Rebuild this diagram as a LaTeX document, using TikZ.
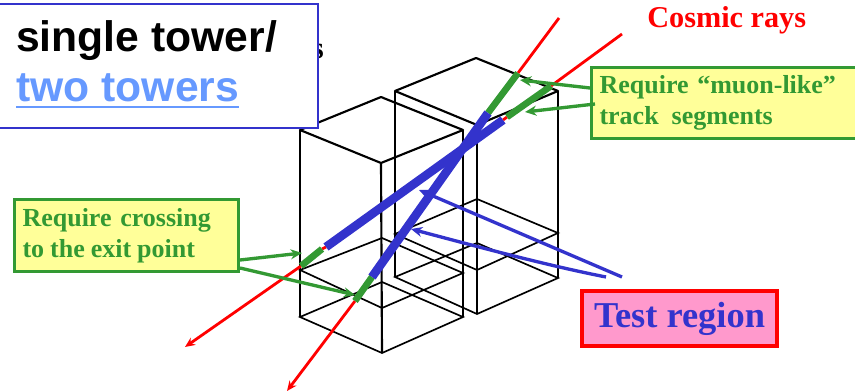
\documentclass[tikz,border=0pt]{standalone}
\usepackage{fontspec}
\setmainfont{Liberation Serif}
\newfontfamily\headfont{Liberation Sans}
\usetikzlibrary{arrows.meta}
\definecolor{gr}{HTML}{339933}
\definecolor{bl}{HTML}{3333CC}
\definecolor{lb}{HTML}{6699FF}
\definecolor{yel}{HTML}{FFFF99}
\definecolor{pk}{HTML}{FF99CC}
\tikzset{
  edge/.style={draw=black,line width=1.6pt,line join=round},
  thin edge/.style={draw=black,line width=1.25pt},
  ray/.style={draw=red,line width=2.1pt},
  rayend/.style={ray,-{Stealth[length=7.5pt,width=6.5pt]}},
  greenseg/.style={draw=gr,line width=5pt},
  blueseg/.style={draw=bl,line width=6.5pt},
  greenarrow/.style={draw=gr,line width=2.5pt,-{Stealth[length=8.5pt,width=7.5pt]}},
  bluearrow/.style={draw=bl,line width=2.5pt,-{Stealth[length=8.5pt,width=7.5pt]}},
  notebox/.style={draw=gr,fill=yel,line width=2.3pt,text=gr,align=left,inner xsep=0pt,inner ysep=0pt,
    font=\fontsize{19.5}{23.3}\selectfont\bfseries},
}
\begin{document}
\begin{tikzpicture}[x=0.75pt,y=-0.75pt]
\useasboundingbox (0,0) rectangle (855,391);
\clip (0,0) rectangle (855,391);
% rear tower
\coordinate (rtl) at (395,91); \coordinate (rtb) at (476,58); \coordinate (rtr) at (558,91); \coordinate (rtf) at (477,125);
\coordinate (rml) at (395,234); \coordinate (rmb) at (477,199); \coordinate (rmr) at (558,233); \coordinate (rmf) at (477,270);
\coordinate (rbl) at (395,277); \coordinate (rbb) at (477,243); \coordinate (rbr) at (558,278); \coordinate (rbf) at (477,314);
\draw[edge] (rtl) -- (rtb) -- (rtr) -- (rtf) -- cycle;
\draw[thin edge] (rtl) -- (rbl);
\draw[edge] (rtf) -- (rbf);
\draw[thin edge] (rtr) -- (rbr);
\draw[thin edge] (rml) -- (rmb) -- (rmr) -- (rmf) -- cycle;
\draw[thin edge] (rbl) -- (rbb) -- (rbr) -- (rbf) -- cycle;
% front tower
\coordinate (ftl) at (300,130); \coordinate (ftb) at (381,97); \coordinate (ftr) at (463,130); \coordinate (ftf) at (381,163);
\coordinate (fml) at (300,270); \coordinate (fmb) at (382,238); \coordinate (fmr) at (463,273); \coordinate (fmf) at (382,308);
\coordinate (fbl) at (300,317); \coordinate (fbb) at (382,282); \coordinate (fbr) at (463,317); \coordinate (fbf) at (382,353);
\draw[edge] (ftl) -- (ftb) -- (ftr) -- (ftf) -- cycle;
\draw[thin edge] (ftl) -- (fbl);
\draw[edge] (ftf) -- (fbf);
\draw[thin edge] (ftr) -- (fbr);
\draw[thin edge] (fml) -- (fmb) -- (fmr) -- (fmf) -- cycle;
\draw[thin edge] (fbl) -- (fbb) -- (fbr) -- (fbf) -- cycle;
% ray A
\coordinate (a0) at (559,18); \coordinate (a1) at (518,73); \coordinate (a2) at (488,113);
\coordinate (a3) at (372,277); \coordinate (a4) at (355,301); \coordinate (a5) at (287,391);
\draw[ray] (a0) -- (a1);
\draw[rayend] (a4) -- (a5);
\draw[greenseg] (a1) -- (a2);
\draw[greenseg] (a3) -- (a4);
\draw[blueseg] (a2) -- (a3);
% ray B
\coordinate (b0) at (622,34); \coordinate (b1) at (551,86); \coordinate (b2) at (507,117);
\coordinate (b3) at (503,120); \coordinate (b4) at (326,247); \coordinate (b5) at (322,249);
\coordinate (b6) at (301,266); \coordinate (b7) at (185,347);
\draw[ray] (b0) -- (b1);
\draw[ray] (b2) -- (b3);
\draw[ray] (b4) -- (b5);
\draw[rayend] (b6) -- (b7);
\draw[greenseg] (b1) -- (b2);
\draw[greenseg] (b5) -- (b6);
\draw[blueseg] (b3) -- (b4);
% hidden letter behind the title
\node[anchor=base east,inner sep=0pt,font=\fontsize{23}{27}\selectfont\bfseries] (hidden) at (324,59) {s};
% notes
\node[notebox,minimum width=300pt,minimum height=53.2pt,text width=288pt,anchor=north west] (muon) at (590,66)
  {Require “muon-like”\\track\hspace{0.5em}segments};
\node[notebox,minimum width=168pt,minimum height=54pt,text width=156pt,anchor=north west] (crossing) at (13,198)
  {Require crossing\\{\spaceskip=0.23em to the exit point}};
\node[draw=red,fill=pk,line width=3pt,minimum width=146.25pt,minimum height=41.25pt,anchor=north west,inner sep=0pt,
  text=bl,font=\fontsize{27.3}{30}\selectfont\bfseries] (test) at (580,289) {Test region\hspace{3pt}};
\node[anchor=base west,inner sep=0pt,text=red,font=\fontsize{22.7}{26}\selectfont\bfseries] (cosmic) at (647,28) {Cosmic rays};
% pointers
\coordinate (gm1) at (520,80); \coordinate (gm2) at (525,112);
\coordinate (gc1) at (302,253); \coordinate (gc2) at (355,295);
\draw[greenarrow] (muon.west |- 0,88) -- (gm1);
\draw[greenarrow] (595,104) -- (gm2);
\draw[greenarrow] (crossing.east |- 0,260) -- (gc1);
\draw[greenarrow] (crossing.east |- 0,268) -- (gc2);
\coordinate (t1) at (622,277); \coordinate (t2) at (606,277);
\coordinate (p1) at (419,190); \coordinate (p2) at (411,229);
\draw[bluearrow] (t1) -- (p1);
\draw[bluearrow] (t2) .. controls (550,266) and (490,250) .. (p2);
% title
\node[draw=bl,fill=white,line width=1.5pt,minimum width=239pt,minimum height=93pt,anchor=north west,inner sep=0pt] (titlebox) at (-2,3) {};
\node[anchor=base west,inner sep=0pt,font=\fontsize{32}{36}\selectfont\headfont\bfseries] (t one) at (16,52) {single tower/};
\node[anchor=base west,inner sep=0pt,text=lb,font=\fontsize{32}{36}\selectfont\headfont\bfseries] (t two) at (16,102) {two towers};
\draw[lb,line width=1.5pt] (t two.base west |- 0,107.5) -- (t two.base east |- 0,107.5);
\end{tikzpicture}
\end{document}
